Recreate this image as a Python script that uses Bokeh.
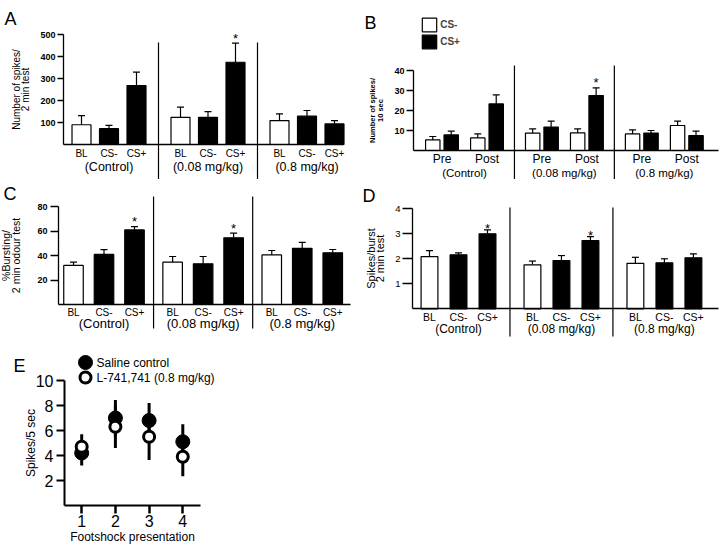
from bokeh.plotting import figure
from bokeh.layouts import column, row
from bokeh.models import (Range1d, LinearAxis, FixedTicker, Whisker, TeeHead,
                          ColumnDataSource, Legend, LegendItem, Label)
from bokeh.embed import file_html
from bokeh.resources import INLINE
from bokeh.core.properties import value

# ---------------- data ----------------
groups = ["(Control)", "(0.08 mg/kg)", "(0.8 mg/kg)"]
conditions = ["BL", "CS-", "CS+"]

# A: number of spikes / 2 min test
a_mean = [90, 72, 269, 124, 124, 375, 109, 129, 94]
a_sem = [42, 15, 61, 46, 26, 87, 31, 26, 15]
a_sig = [0, 0, 0, 0, 0, 1, 0, 0, 0]
a_yticks = [100, 200, 300, 400, 500]

# B: number of spikes / 10 sec (Pre, Post per group)
phases = ["Pre", "Post"]
b_series = ["CS-", "CS+"]
b_csminus_mean = [5.3, 6.3, 8.7, 8.8, 8.3, 12.5]
b_csminus_sem = [1.7, 2.0, 2.1, 2.0, 2.0, 2.2]
b_csplus_mean = [7.8, 23.3, 11.7, 27.5, 8.7, 7.5]
b_csplus_sem = [1.9, 4.5, 3.0, 3.8, 1.3, 2.2]
b_sig_plus = [0, 0, 0, 1, 0, 0]
b_yticks = [10, 20, 30, 40]

# C: % bursting / 2 min odour test
c_mean = [32, 41, 61, 34.6, 33.3, 54.6, 40.6, 46, 42.3]
c_sem = [2.7, 3.9, 2.7, 4.7, 6.0, 3.8, 3.6, 4.9, 2.7]
c_sig = [0, 0, 1, 0, 0, 1, 0, 0, 0]
c_yticks = [20, 40, 60, 80]

# D: spikes/burst 2 min test
d_mean = [2.09, 2.16, 3.0, 1.76, 1.93, 2.73, 1.82, 1.84, 2.04]
d_sem = [0.24, 0.08, 0.16, 0.15, 0.2, 0.16, 0.24, 0.16, 0.16]
d_sig = [0, 0, 1, 0, 0, 1, 0, 0, 0]
d_yticks = [1, 2, 3, 4]

# E: spikes / 5 sec per footshock presentation
shock = [1, 2, 3, 4]
e_series = ["Saline control", "L-741,741 (0.8 mg/kg)"]
sal_mean = [4.2, 7.0, 6.8, 5.1]
sal_sem = [1.0, 1.45, 1.4, 1.4]
l74_mean = [4.7, 6.3, 5.5, 3.9]
l74_sem = [1.0, 1.7, 1.85, 1.55]
e_yticks = [2, 4, 6, 8, 10]

FONT = "Liberation Sans"
ng, nc = len(groups), len(conditions)


def make_fig(box, xa, ppx, y0, ppy):
    L, T, R, B = box
    p = figure(width=R - L, height=B - T, output_backend="svg", toolbar_location=None,
               x_range=Range1d((L - xa) / ppx, (R - xa) / ppx),
               y_range=Range1d((y0 - B) / ppy, (y0 - T) / ppy),
               min_border=0, min_border_left=0, min_border_right=0,
               min_border_top=0, min_border_bottom=0)
    p.outline_line_color = None
    p.grid.visible = False
    p.title.visible = False
    rx = lambda x: (x - xa) / ppx
    ry = lambda y: (y0 - y) / ppy
    return p, rx, ry


def style_axis(ax, size, style="normal", out=0, standoff=2, width=1.3):
    ax.major_label_text_font = FONT
    ax.major_label_text_font_size = size
    ax.major_label_text_font_style = style
    ax.major_label_text_color = "black"
    ax.major_label_standoff = standoff
    ax.axis_line_color = "black"
    ax.axis_line_width = width
    ax.major_tick_line_color = "black"
    ax.major_tick_line_width = width
    ax.major_tick_out = out
    ax.major_tick_in = 0
    ax.minor_tick_line_color = None
    ax.axis_label_text_font = FONT
    ax.axis_label_text_color = "black"


def common_axes(p, rx, cfg, xticks, xlabels, gcenters):
    yax = p.yaxis[0]
    yax.fixed_location = rx(cfg["yaxis_x"])
    yax.bounds = (0, cfg["ytop"])
    yax.ticker = FixedTicker(ticks=cfg["yticks"])
    style_axis(yax, cfg["yt_size"], cfg["yt_style"], cfg["yt_out"], cfg["yt_standoff"])
    yax.axis_label = cfg["ylabel"]
    yax.axis_label_text_font_size = cfg["yl_size"]
    yax.axis_label_text_font_style = cfg["yl_style"]
    yax.axis_label_text_line_height = cfg["yl_lh"]
    yax.axis_label_standoff = cfg["yl_standoff"]

    xax = p.xaxis[0]
    xax.fixed_location = 0
    xax.bounds = (rx(cfg["yaxis_x"]), rx(cfg["x_right"]))
    xax.ticker = FixedTicker(ticks=xticks)
    xax.major_label_overrides = {x: lab for x, lab in zip(xticks, xlabels)}
    style_axis(xax, cfg["xt_size"], "normal", 0, cfg["xt_standoff"])

    gax = LinearAxis(fixed_location=0, ticker=FixedTicker(ticks=gcenters),
                     major_label_overrides={x: g for x, g in zip(gcenters, groups)})
    style_axis(gax, cfg["g_size"], "normal", 0, cfg["g_standoff"])
    gax.axis_line_color = None
    gax.major_tick_line_color = None
    p.add_layout(gax, "below")


def add_letter(p, rx, ry, text, pos):
    p.add_layout(Label(x=rx(pos[0]), y=ry(pos[1]), text=text, text_font=FONT,
                       text_font_size="18px", text_baseline="alphabetic",
                       text_align="left", text_color="black"))


def add_bars(p, xs, means, sems, fills, bw):
    hi = [m + s for m, s in zip(means, sems)]
    src = ColumnDataSource(dict(x=xs, top=means, hi=hi, fill=fills))
    r = p.vbar(x="x", top="top", bottom=0, width=bw, source=src,
               fill_color="fill", line_color="black", line_width=1.2)
    p.add_layout(Whisker(source=src, base="x", lower="top", upper="hi",
                         line_color="black", line_width=1.2,
                         upper_head=TeeHead(size=7, line_color="black", line_width=1.2),
                         lower_head=None))
    return r, hi


def add_stars(p, xs, hi, sig, off):
    sx = [x for x, s in zip(xs, sig) if s]
    sy = [v for v, s in zip(hi, sig) if s]
    p.text(x=sx, y=sy, text=["*"] * len(sx), text_align="center",
           text_baseline="middle", text_font=value(FONT), text_font_size="13px",
           text_color="black", y_offset=off)


def bar_panel(cfg, means, sems, sig):
    p, rx, ry = make_fig(cfg["box"], cfg["xa"], cfg["ppx"], cfg["y0"], cfg["ppy"])
    GS = cfg["GS"]
    xs = [round(g * GS + s, 4) for g in range(ng) for s in range(nc)]
    fills = ["white" if c == "BL" else "black" for _ in groups for c in conditions]
    _, hi = add_bars(p, xs, means, sems, fills, cfg["bw"])
    divx = [round(g * GS + (nc - 1) + (GS - (nc - 1)) / 2, 4) for g in range(ng - 1)]
    p.segment(x0=divx, x1=divx, y0=[ry(cfg["div"][0])] * len(divx),
              y1=[ry(cfg["div"][1])] * len(divx), line_color="black", line_width=1.2)
    add_stars(p, xs, hi, sig, cfg["star_off"])
    gc = [round(g * GS + (nc - 1) / 2, 4) for g in range(ng)]
    common_axes(p, rx, cfg, xs, conditions * ng, gc)
    add_letter(p, rx, ry, cfg["letter"], cfg["letter_pos"])
    return p


# -------- layout geometry (page pixels) --------
cfgA = dict(box=(0, 0, 358, 179), xa=81, ppx=27.5, GS=3.6, bw=0.69,
            y0=144, ppy=0.2194, yaxis_x=63, x_right=343, div=(42, 185),
            ytop=500, yticks=a_yticks, ylabel="Number of spikes/\n2 min test",
            yl_size="10px", yl_style="normal", yl_lh=0.85, yl_standoff=6,
            yt_size="9px", yt_style="bold", yt_out=6, yt_standoff=2,
            xt_size="10px", xt_standoff=3, g_size="12.5px", g_standoff=15,
            star_off=-5, letter="A", letter_pos=(4, 18))

cfgC = dict(box=(0, 179, 358, 342), xa=73, ppx=30.5, GS=3.25, bw=0.64,
            y0=304, ppy=1.222, yaxis_x=58, x_right=350, div=(196, 328),
            ytop=80, yticks=c_yticks, ylabel="%Bursting/\n2 min odour test",
            yl_size="10.5px", yl_style="normal", yl_lh=0.9, yl_standoff=12,
            yt_size="9px", yt_style="bold", yt_out=8, yt_standoff=3,
            xt_size="10px", xt_standoff=2, g_size="13px", g_standoff=11,
            star_off=-5, letter="C", letter_pos=(3, 193))

cfgD = dict(box=(358, 179, 720, 342), xa=429, ppx=29, GS=3.55, bw=0.58,
            y0=308.3, ppy=25, yaxis_x=412, x_right=718, div=(207, 336),
            ytop=4, yticks=d_yticks, ylabel="Spikes/burst\n2 min test",
            yl_size="11px", yl_style="normal", yl_lh=0.75, yl_standoff=6,
            yt_size="9.5px", yt_style="normal", yt_out=10, yt_standoff=2,
            xt_size="10.5px", xt_standoff=2, g_size="12px", g_standoff=13,
            star_off=-1, letter="D", letter_pos=(362, 195))

pA = bar_panel(cfgA, a_mean, a_sem, a_sig)
pC = bar_panel(cfgC, c_mean, c_sem, c_sig)
pD = bar_panel(cfgD, d_mean, d_sem, d_sig)

# -------- panel B --------
cfgB = dict(box=(358, 0, 720, 179), xa=441.5, ppx=45, GS=2.22, off=0.205,
            bw=0.32, y0=150, ppy=2.0, yaxis_x=413, x_right=718, div=(65, 185),
            ytop=40, yticks=b_yticks, ylabel="Number of spikes/\n10 sec",
            yl_size="7.5px", yl_style="bold", yl_lh=0.95, yl_standoff=6,
            yt_size="9px", yt_style="bold", yt_out=7, yt_standoff=2,
            xt_size="12px", xt_standoff=1, g_size="11.5px", g_standoff=16,
            star_off=-5, letter="B", letter_pos=(364, 22))
pB, rxB, ryB = make_fig(cfgB["box"], cfgB["xa"], cfgB["ppx"], cfgB["y0"], cfgB["ppy"])
npz = len(phases)
GSB = cfgB["GS"]
cx = [round(g * GSB + k, 4) for g in range(ng) for k in range(npz)]
xm = [round(c - cfgB["off"], 4) for c in cx]
xp = [round(c + cfgB["off"], 4) for c in cx]
rm, _ = add_bars(pB, xm, b_csminus_mean, b_csminus_sem, ["white"] * len(xm), cfgB["bw"])
rp, hip = add_bars(pB, xp, b_csplus_mean, b_csplus_sem, ["black"] * len(xp), cfgB["bw"])
divB = [round(g * GSB + (npz - 1) + (GSB - (npz - 1)) / 2, 4) for g in range(ng - 1)]
pB.segment(x0=divB, x1=divB, y0=[ryB(cfgB["div"][0])] * len(divB),
           y1=[ryB(cfgB["div"][1])] * len(divB), line_color="black", line_width=1.2)
add_stars(pB, xp, hip, b_sig_plus, cfgB["star_off"])
gcB = [round(g * GSB + (npz - 1) / 2, 4) for g in range(ng)]
common_axes(pB, rxB, cfgB, cx, phases * ng, gcB)
add_letter(pB, rxB, ryB, cfgB["letter"], cfgB["letter_pos"])
legB = Legend(items=[LegendItem(label=b_series[0], renderers=[rm]),
                     LegendItem(label=b_series[1], renderers=[rp])],
              location=(420.2 - 358, 179 - (16.3 + 34)),
              glyph_width=18, glyph_height=17, label_height=17, spacing=0,
              label_standoff=2, padding=0, margin=0, border_line_color=None,
              background_fill_alpha=0, label_text_font=FONT,
              label_text_font_style="bold", label_text_font_size="10px")
pB.add_layout(legB)

# -------- panel E --------
pE, rxE, ryE = make_fig((0, 342, 358, 546), 47.5, 33.7, 505, 12.5)
sal_lo = [m - s for m, s in zip(sal_mean, sal_sem)]
sal_hi = [m + s for m, s in zip(sal_mean, sal_sem)]
l74_lo = [m - s for m, s in zip(l74_mean, l74_sem)]
l74_hi = [m + s for m, s in zip(l74_mean, l74_sem)]
pE.segment(x0=shock, x1=shock, y0=sal_lo, y1=sal_hi, line_color="black", line_width=3)
pE.segment(x0=shock, x1=shock, y0=l74_lo, y1=l74_hi, line_color="black", line_width=3)
pE.scatter(x=shock, y=sal_mean, size=14, marker="circle", fill_color="black",
           line_color="black")
pE.scatter(x=shock, y=l74_mean, size=11, marker="circle", fill_color="white",
           line_color="black", line_width=3)
# legend (drawn by hand to match the figure's large markers)
pE.scatter(x=[rxE(85)], y=[ryE(362)], size=14, marker="circle", fill_color="black",
           line_color="black")
pE.scatter(x=[rxE(85)], y=[ryE(377)], size=11, marker="circle", fill_color="white",
           line_color="black", line_width=3)
pE.text(x=[rxE(96)] * 2, y=[ryE(362), ryE(377)], text=e_series, text_baseline="middle",
        text_font=value(FONT), text_font_size="12px", text_color="black")

yE = pE.yaxis[0]
yE.fixed_location = rxE(64)
yE.bounds = (0, 10)
yE.ticker = FixedTicker(ticks=e_yticks)
style_axis(yE, "16px", "normal", 8, 3, width=2)
yE.axis_label = "Spikes/5 sec"
yE.axis_label_text_font_size = "12px"
yE.axis_label_text_font_style = "normal"
yE.axis_label_standoff = -5

xE = pE.xaxis[0]
xE.fixed_location = 0
xE.bounds = (rxE(64), rxE(200))
xE.ticker = FixedTicker(ticks=shock)
style_axis(xE, "16px", "normal", 8, 1, width=2)
xE.major_tick_line_width = 2.5
xE.axis_label = "Footshock presentation"
xE.axis_label_text_font_size = "12px"
xE.axis_label_text_font_style = "normal"
xE.axis_label_standoff = 0
add_letter(pE, rxE, ryE, "E", (13, 365))

layout = column(row(pA, pB), row(pC, pD), pE)
open("out.html", "w").write(file_html(layout, INLINE))
